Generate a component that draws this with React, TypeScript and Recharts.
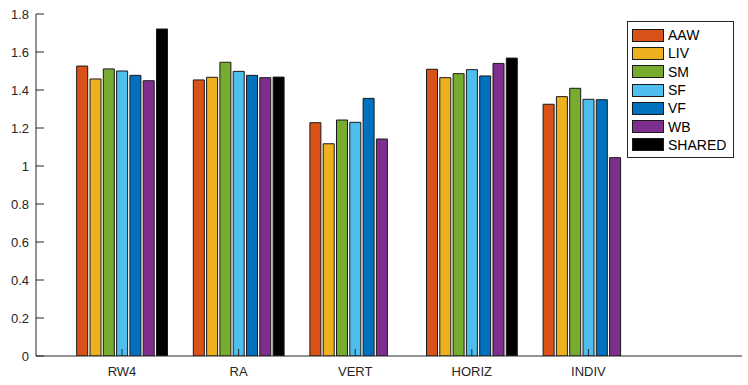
import React from 'react';
import { BarChart, Bar, XAxis, YAxis } from 'recharts';

const categories = ['RW4', 'RA', 'VERT', 'HORIZ', 'INDIV'];
const AAW = [1.526, 1.453, 1.228, 1.509, 1.325];
const LIV = [1.458, 1.467, 1.117, 1.465, 1.365];
const SM = [1.511, 1.546, 1.242, 1.486, 1.409];
const SF = [1.5, 1.498, 1.23, 1.507, 1.351];
const VF = [1.477, 1.477, 1.356, 1.474, 1.349];
const WB = [1.449, 1.465, 1.142, 1.54, 1.044];
const SHARED: (number | null)[] = [1.721, 1.468, null, 1.568, null];
const yTicks = [0, 0.2, 0.4, 0.6, 0.8, 1, 1.2, 1.4, 1.6, 1.8];

const seriesNames = ['AAW', 'LIV', 'SM', 'SF', 'VF', 'WB', 'SHARED'];
const seriesValues = [AAW, LIV, SM, SF, VF, WB, SHARED];
const colors = ['#D95319', '#EDB120', '#77AC30', '#4DBEEE', '#0072BD', '#7E2F8E', '#000000'];

const data = categories.map((c, i) => {
  const row: Record<string, any> = { name: c };
  seriesNames.forEach((s, k) => {
    row[s] = seriesValues[k][i];
  });
  return row;
});

const AXIS = '#262626';
const FONT = '"Liberation Sans", Arial, Helvetica, sans-serif';

const YTick = (props: any) => {
  const { x, y, payload } = props;
  const label = String(Number(Number(payload.value).toFixed(1)));
  return (
    <g>
      <line x1={x} x2={x + 8} y1={y} y2={y} stroke={AXIS} strokeWidth={1} />
      <text x={x - 7} y={y} textAnchor="end" dominantBaseline="central" fill={AXIS} fontSize={13} fontFamily={FONT}>
        {label}
      </text>
    </g>
  );
};

const XTick = (props: any) => {
  const { x, y, payload } = props;
  return (
    <g>
      <line x1={x} x2={x} y1={y} y2={y - 7} stroke={AXIS} strokeWidth={1} />
      <text x={x} y={y + 15} textAnchor="middle" dominantBaseline="central" fill={AXIS} fontSize={13} fontFamily={FONT}>
        {payload.value}
      </text>
    </g>
  );
};

const LegendBox = () => (
  <div
    style={{
      position: 'absolute',
      left: 627,
      top: 21,
      border: `1px solid ${AXIS}`,
      background: '#fff',
      width: 107,
      padding: '4px 0 3px 4px',
      boxSizing: 'border-box',
      fontFamily: FONT,
      fontSize: 14,
      color: '#000',
    }}
  >
    {seriesNames.map((s, i) => (
      <div key={s} style={{ display: 'flex', alignItems: 'center', height: 18.3 }}>
        <div
          style={{
            width: 32,
            height: 13,
            background: colors[i],
            border: '1px solid #1a1a1a',
            boxSizing: 'border-box',
            marginRight: 4,
          }}
        />
        <span style={{ lineHeight: '14px' }}>{s}</span>
      </div>
    ))}
  </div>
);

export default function App() {
  return (
    <div style={{ position: 'absolute', left: 0, top: 0, width: 748, height: 385, background: '#fff' }}>
      <BarChart
        width={748}
        height={385}
        data={data}
        margin={{ top: 14, right: 6, bottom: 0, left: 0 }}
        barSize={11}
        barGap={2.3}
      >
        <XAxis
          dataKey="name"
          height={29}
          padding={{ left: 27.7, right: 95.3 }}
          axisLine={{ stroke: AXIS, strokeWidth: 1 }}
          tickLine={false}
          tickSize={0}
          tickMargin={0}
          tick={<XTick />}
          interval={0}
        />
        <YAxis
          width={36}
          domain={[0, 1.8]}
          ticks={yTicks}
          interval={0}
          axisLine={{ stroke: AXIS, strokeWidth: 1 }}
          tickLine={false}
          tickSize={0}
          tickMargin={0}
          tick={<YTick />}
          allowDataOverflow
        />
        {seriesNames.map((s, i) => (
          <Bar
            key={s}
            dataKey={s}
            fill={colors[i]}
            stroke="#1a1a1a"
            strokeWidth={1}
            isAnimationActive={false}
          />
        ))}
      </BarChart>
      <LegendBox />
    </div>
  );
}
